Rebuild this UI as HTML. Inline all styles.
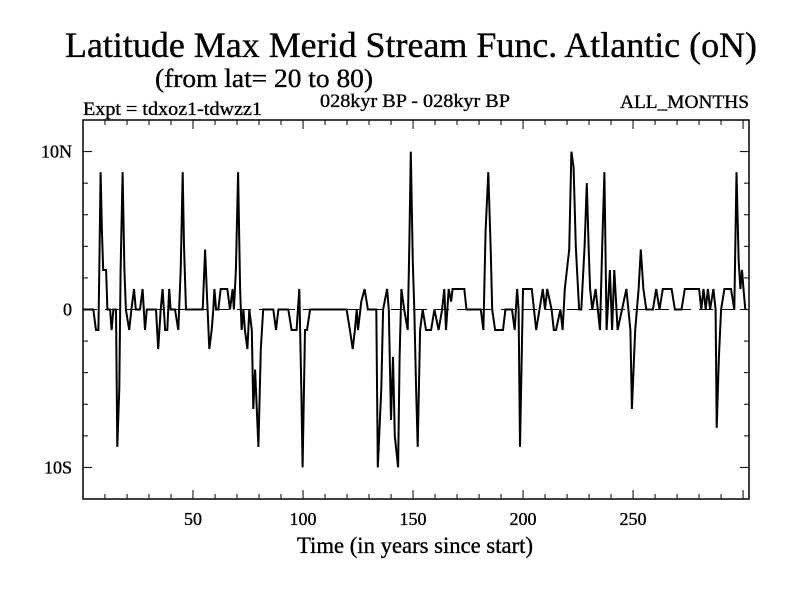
<!DOCTYPE html>
<html><head><meta charset="utf-8"><style>
body{margin:0;background:#fff}
svg text{font-family:"Liberation Serif",serif;fill:#000;stroke:#000;stroke-width:0.35}
</style></head><body>
<svg id="chart" width="800" height="600" viewBox="0 0 800 600" xmlns="http://www.w3.org/2000/svg">
<rect width="800" height="600" fill="#fff"/>
<text x="411" y="57" font-size="36" text-anchor="middle" textLength="692" lengthAdjust="spacingAndGlyphs">Latitude Max Merid Stream Func. Atlantic (oN)</text>
<text x="264" y="87" font-size="26" text-anchor="middle" textLength="218" lengthAdjust="spacingAndGlyphs">(from lat= 20 to 80)</text>
<text x="83" y="115" font-size="19" textLength="179" lengthAdjust="spacingAndGlyphs">Expt = tdxoz1-tdwzz1</text>
<text x="415" y="107" font-size="19" text-anchor="middle" textLength="190" lengthAdjust="spacingAndGlyphs">028kyr BP - 028kyr BP</text>
<text x="749" y="108" font-size="19" text-anchor="end" textLength="129" lengthAdjust="spacingAndGlyphs">ALL_MONTHS</text>
<g id="axes"></g>
<g id="series"></g>
<text x="415" y="553" font-size="23" text-anchor="middle" textLength="236" lengthAdjust="spacingAndGlyphs">Time (in years since start)</text>
</svg>
<script>
const years=[0,4.7,5.9,7,7.4,8,8.6,9.2,10.5,11.1,12.3,13,13.8,15,15.6,16.5,17.1,18,18.8,19.5,21,22,23.2,24,25.9,27.1,28.2,29,33.2,34.2,35.3,36.2,37.3,38.3,39.2,39.8,41.8,43.3,44.4,45.3,45.9,46.8,54.4,55.5,56.2,57.4,58.5,59.2,59.7,60.5,61.5,62.6,65.6,66.8,68,68.6,69.5,70.5,71.4,72.1,72.9,73.6,74.7,75.6,76.7,77.4,78.2,79.7,80.8,81.9,86.5,87.7,88.8,93.3,94.8,97.1,98.3,99.2,99.8,100.9,101.8,103.2,119.8,121.3,122.6,123.6,124.4,125,126.5,128,129.5,133.3,134,135.6,136.4,138.2,139,140,140.9,141.7,143.2,143.9,144.7,146,147.6,148.3,149,149.9,150.6,151.4,152.1,153.2,154.4,155.9,158.2,159.7,161.6,163.2,164.2,165,166.2,167.3,168,169.5,173.3,174.3,180.8,182,183,184.2,185.3,186,187.3,190.9,192,195,196.2,197.3,198,198.6,200,204,206,209,210,211,213,214,215,217,218,219,221,222,223,224,225.5,226.5,228,229,229.8,230.5,231.5,233,235,236,237,238,239.5,240.5,241.5,243,245,247,248.8,249.5,251,252.5,253.5,254.7,256,259,260.5,262,263.5,267.5,269,272,273.5,280,281,282,283,284,285,286.5,287.5,288,289,290,291.5,294.5,296,297,298,298.8,299.5,300.2,301];
const values=[0,0,-1.3,-1.3,2.5,8.7,5,2.5,2.5,0,0,-1.3,0,0,-8.7,-5,2.5,8.7,2.5,0,-1.3,0,1.3,0,0,1.3,-1.3,0,0,-2.5,0,1.3,-1.3,-1.3,1.3,0,0,-1.3,2.5,8.7,4,0,0,3.8,1.3,-2.5,-1.3,0,1.3,0,0,1.3,1.3,0,1.3,0,2.5,8.7,1.3,-1.3,0,-1.3,-2.5,0,-1.3,-6.3,-3.8,-8.7,-2.5,0,0,-1.3,0,0,-1.3,-1.3,1.3,-5,-10,-1.3,-1.3,0,0,-1.3,-2.5,-1.3,0,-1.3,0.5,1.3,0,0,-10,-5,0,1.3,0,-7,-3,-8,-10,-3,1.3,0,-1.3,4,10,3,0,-5,-8.7,-1.3,0,-1.3,-1.3,0,-1.3,0,1.3,-1.3,1.3,0.5,1.3,1.3,1.3,0,0,-1.3,5,8.7,3.8,0,-1.3,-1.3,0,0,-1.3,1.3,0,-8.7,1.3,1.3,-1.3,1.3,0,1.3,0,-1.3,-1.3,0,-1.3,1.3,3.8,10,9,4,0,0,4,8,4,1.3,0,1.3,-1.3,4,8.7,-1.3,2.5,-1.3,2.5,-1.3,0,1.3,-1.3,-6.3,-1.3,1.3,3.8,1.3,0,0,1.3,0,1.3,1.3,0,0,1.3,1.3,0,1.3,0,1.3,0,1.3,0,-7.5,-3,0,1.3,1.3,0,8.7,3,1.3,2.5,1.3,0];
const xTickLabels=[50,100,150,200,250];
const yTickValues=[10,0,-10];
const yTickLabels=["10N","0","10S"];
const L=83,R=749,T=120,B=499,XMIN=0,XMAX=302.7,YMIN=-12,YMAX=12;
const sx=v=>L+(v-XMIN)/(XMAX-XMIN)*(R-L);
const sy=v=>B-(v-YMIN)/(YMAX-YMIN)*(B-T);
const NS="http://www.w3.org/2000/svg";
const axes=document.getElementById('axes');
function mk(tag,attrs,parent){const e=document.createElementNS(NS,tag);for(const k in attrs)e.setAttribute(k,attrs[k]);parent.appendChild(e);return e;}
const frame=mk('rect',{x:L,y:T,width:R-L,height:B-T,fill:'none',stroke:'#000','stroke-width':1.5},axes);


const zl=mk('line',{x1:L,x2:R,y1:sy(0),y2:sy(0),stroke:'#000','stroke-width':1,'stroke-dasharray':'14,8'},axes);


for(let t=10;t<XMAX;t+=10){const len=(t%50===0)?9:5;const x=sx(t);
 const a=mk('line',{x1:x,x2:x,y1:B,y2:B-len,stroke:'#000','stroke-width':1},axes);
 
 
 const b=mk('line',{x1:x,x2:x,y1:T,y2:T+len,stroke:'#000','stroke-width':1},axes);
 
 }
for(let t=-10;t<=10;t+=2){const len=(t%10===0)?9:5;const y=sy(t);
 const a=mk('line',{x1:L,x2:L+len,y1:y,y2:y,stroke:'#000','stroke-width':1},axes);
 
 
 const b=mk('line',{x1:R,x2:R-len,y1:y,y2:y,stroke:'#000','stroke-width':1},axes);
 
 }
xTickLabels.forEach(v=>{const t=mk('text',{x:sx(v),y:525,'font-size':18,'text-anchor':'middle'},axes);t.textContent=v;
 
 });
yTickValues.forEach((v,i)=>{const t=mk('text',{x:72,y:sy(v)+6,'font-size':18,'text-anchor':'end'},axes);t.textContent=yTickLabels[i];
 
 });
const pts=years.map((y,i)=>sx(y).toFixed(1)+','+sy(values[i]).toFixed(1)).join(' ');
const line=mk('polyline',{points:pts,fill:'none',stroke:'#000','stroke-width':2,'stroke-linejoin':'miter'},document.getElementById('series'));


</script>
</body></html>
